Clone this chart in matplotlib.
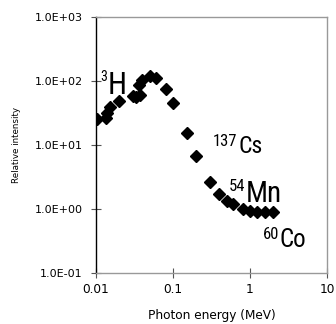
import matplotlib
matplotlib.use('Agg')
from matplotlib import pyplot as plt
from matplotlib.ticker import FixedLocator, NullLocator

# photon energy (MeV) and relative intensity
energy = [0.0102, 0.0135, 0.0138, 0.0152, 0.0201, 0.030, 0.033, 0.037, 0.0365,
          0.040, 0.050, 0.060, 0.080, 0.10, 0.15, 0.20, 0.30, 0.40, 0.51,
          0.60, 0.80, 1.0, 1.25, 1.57, 2.0]
intensity = [25.5, 26.3, 32, 39.7, 49, 59, 57, 61, 87,
             104, 121, 110, 74, 45, 15.2, 6.7, 2.67, 1.71, 1.35,
             1.18, 1.0, 0.94, 0.91, 0.89, 0.89]

x_ticks = [0.01, 0.1, 1, 10]
x_labels = ['0.01', '0.1', '1', '10']
y_ticks = [0.1, 1, 10, 100, 1000]
y_labels = ['1.0E-01', '1.0E+00', '1.0E+01', '1.0E+02', '1.0E+03']

# (mass number, element, left px, top px, sizes) for the isotope labels
isotopes = [('3', 'H', 100.5, 70, 10, 22),
            ('137', 'Cs', 213, 134, 12, 17),
            ('54', 'Mn', 229, 179, 12, 21),
            ('60', 'Co', 263, 227, 12, 18)]

W, H = 336, 324
fig = plt.figure(figsize=(W / 100, H / 100), dpi=100)
ax = fig.add_axes([96 / W, 1 - 273 / H, 231 / W, 256 / H])

ax.plot(energy, intensity, linestyle='none', marker='D', markersize=6,
        color='black')

ax.set_xscale('log')
ax.set_yscale('log')
ax.set_xlim(0.01, 10)
ax.set_ylim(0.1, 1000)
ax.xaxis.set_major_locator(FixedLocator(x_ticks))
ax.xaxis.set_minor_locator(NullLocator())
ax.yaxis.set_major_locator(FixedLocator(y_ticks))
ax.yaxis.set_minor_locator(NullLocator())
ax.set_xticklabels(x_labels, fontsize=8.7)
ax.set_yticklabels(y_labels, fontsize=8)
ax.tick_params(axis='both', direction='inout', length=7, width=0.8, color='#555555')
ax.tick_params(axis='y', pad=6)
ax.tick_params(axis='x', pad=4)

for side in ['top', 'right', 'bottom']:
    ax.spines[side].set_color('#999999')
    ax.spines[side].set_linestyle((0, (1, 1)))
    ax.spines[side].set_linewidth(1.0)
ax.spines['left'].set_color('black')
ax.spines['left'].set_linewidth(1.0)

ax.set_xlabel('Photon energy (MeV)', fontsize=8.7)
ax.xaxis.set_label_coords(0.5, -0.14)
ax.set_ylabel('Relative intensity', fontsize=6.3)
ax.yaxis.set_label_coords(-0.325, 0.5)

fam = ['Roboto Condensed', 'DejaVu Sans']
for num, elem, px, py, s1, s2 in isotopes:
    t = fig.text(px / W, 1 - py / H, num, fontsize=s1, family=fam,
                 ha='left', va='top')
    fig.canvas.draw()
    bb = t.get_window_extent()
    fig.text((bb.x1 + 0.5) / W, 1 - (py + 1) / H, elem, fontsize=s2,
             family=fam, ha='left', va='top')

fig.savefig('out.png', dpi=100)
